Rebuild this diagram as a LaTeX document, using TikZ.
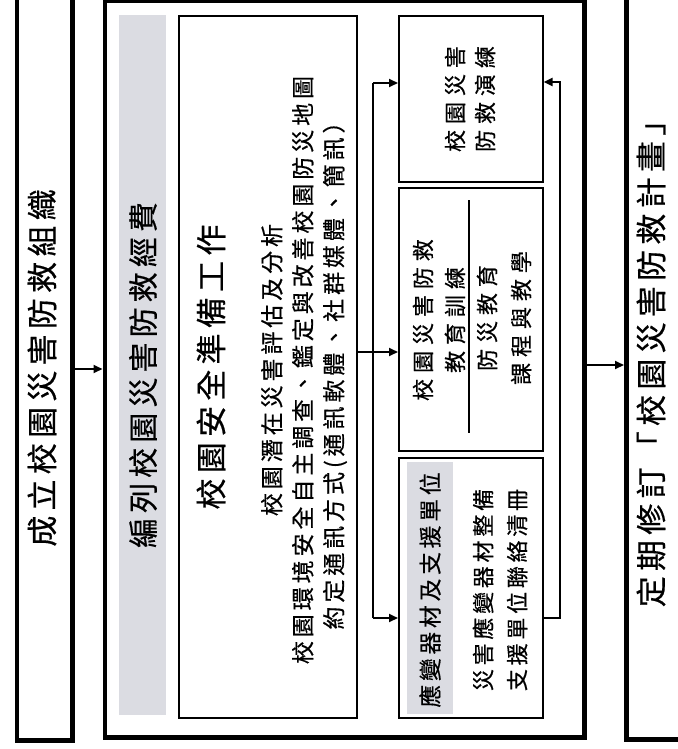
\documentclass[tikz,border=0pt]{standalone}
\usepackage{fontspec}
\newfontfamily\cjk[LetterSpace=17,FakeBold=0.5]{Noto Sans CJK TC}
\newfontfamily\cjkw[LetterSpace=27,FakeBold=0.5]{Noto Sans CJK TC}
\usetikzlibrary{arrows.meta}
\definecolor{band}{RGB}{219,220,226}
\begin{document}
\begin{tikzpicture}[x=1pt,y=-1pt,
  thickbox/.style={draw, line width=4.5pt, inner sep=0pt},
  thinbox/.style={draw, line width=1.6pt, inner sep=0pt},
  bandbox/.style={fill=band, draw=none, inner sep=0pt},
  conn/.style={line width=2pt, line join=miter},
  arr/.style={conn, -{Triangle[length=9pt,width=8pt]}},
  vtext/.style={rotate=90, align=center, inner sep=0pt},
  big/.style={vtext, font=\cjk\fontsize{31}{36}\selectfont},
  body/.style={vtext, font=\cjk\fontsize{23}{31}\selectfont},
  small/.style={vtext, font=\cjkw\fontsize{22}{30}\selectfont}]
\useasboundingbox (0,0) rectangle (677,749);
\fill[white] (0,0) rectangle (677,749);

% frames
\node[thickbox, anchor=north west, minimum width=55.5pt, minimum height=745pt] (org) at (14.5,-7) {};
\node[thickbox, anchor=north west, minimum width=479.5pt, minimum height=736pt] (outer) at (102.5,-1) {};
\node[thickbox, anchor=north west, minimum width=80pt, minimum height=744pt] (final) at (624,-7) {};

% inside outer frame
\node[bandbox, anchor=north west, minimum width=47pt, minimum height=700pt] (band) at (119,15) {};
\node[thinbox, anchor=north west, minimum width=178pt, minimum height=702pt] (prep) at (178,15) {};
\node[thinbox, anchor=north west, minimum width=144pt, minimum height=166pt] (drill) at (398,15) {};
\node[thinbox, anchor=north west, minimum width=144pt, minimum height=263pt] (edu) at (398,187) {};
\node[thinbox, anchor=north west, minimum width=144pt, minimum height=260pt] (equip) at (398,457) {};
\node[bandbox, anchor=north west, minimum width=46pt, minimum height=252pt] (eqband) at (407,462) {};

% texts
\node[big] (orgt) at (42,368) {成立校園災害防救組織};
\node[big] (finalt) at (651,356) {定期修訂「校園災害防救計畫」};
\node[big, font=\cjk\fontsize{30}{36}\selectfont] (bandt) at (143,375) {編列校園災害防救經費};
\node[big] (prept) at (211,367) {校園安全準備工作};
\node[body] (prepb) at (304,370) {校園潛在災害評估及分析\\校園環境安全自主調查、鑑定與改善校園防災地圖\\約定通訊方式(通訊軟體、社群媒體、簡訊）};
\node[small] (drillt) at (470,99) {校園災害\\防救演練};
\node[small, font=\cjkw\fontsize{22}{32}\selectfont] (edut1) at (439,320) {校園災害防救\\教育訓練};
\node[small, font=\cjkw\fontsize{22}{34}\selectfont] (edut2) at (504,318) {防災教育\\課程與教學};
\node[body, font=\cjk\fontsize{22.7}{34}\selectfont] (eqt) at (430,590) {應變器材及支援單位};
\node[body, font=\cjk\fontsize{22}{34}\selectfont] (eqb) at (500,590) {災害應變器材整備\\支援單位聯絡清冊};
\draw[line width=1.4pt] (469,200) -- (469,433);

% connectors
\coordinate (jt) at (373,83);
\coordinate (jm) at (373,352);
\coordinate (jb) at (373,618);
\coordinate (rt) at (560,82);
\coordinate (rb) at (560,618);
\coordinate (la) at (0,369);
\coordinate (ra) at (0,365);
\draw[arr] (org.east |- la) -- (outer.west |- la);
\draw[arr] (outer.east |- ra) -- (final.west |- ra);
\draw[arr] (prep.east |- jm) -- (edu.west |- jm);
\draw[conn] (jt) -- (jb);
\draw[arr] (jt) -- (drill.west |- jt);
\draw[arr] (jb) -- (equip.west |- jb);
\draw[arr] (equip.east |- rb) -- (rb) -- (rt) -- (drill.east |- rt);
\end{tikzpicture}
\end{document}
